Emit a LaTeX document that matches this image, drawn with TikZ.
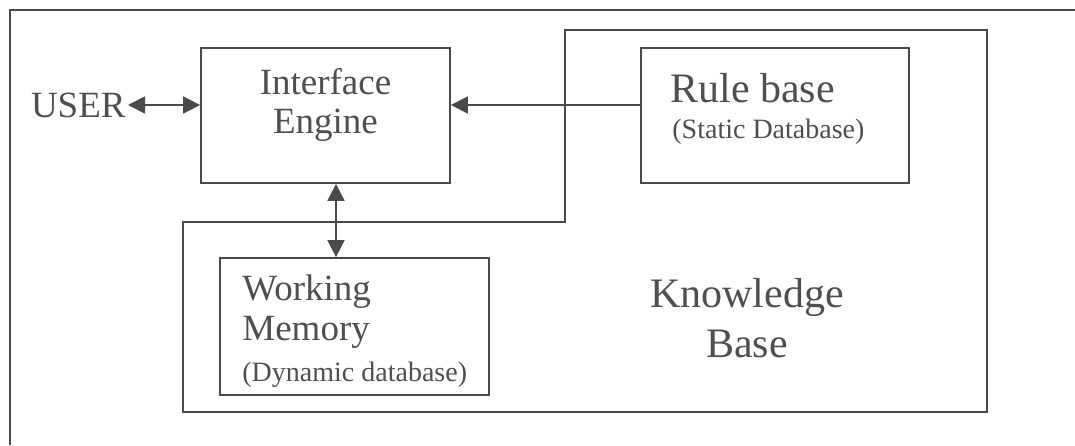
\documentclass[tikz,border=0pt]{standalone}
\usepackage{fontspec}
\setmainfont{Liberation Serif}
\usetikzlibrary{arrows.meta}
\definecolor{ink}{HTML}{4A4A4A}
\definecolor{txt}{HTML}{4F4F4F}
\tikzset{
  block/.style={draw=ink, line width=0.9pt, fill=white, inner sep=0pt},
  lbl/.style={text=txt, inner sep=0pt, font=\fontsize{18.5}{21}\selectfont},
  big/.style={text=txt, inner sep=0pt, font=\fontsize{21}{25}\selectfont},
  small/.style={text=txt, inner sep=0pt, font=\fontsize{14}{16}\selectfont},
  tip/.tip={Triangle[length=8.5pt,width=8.5pt]},
  link/.style={draw=ink, line width=0.9pt, -tip},
  dlink/.style={draw=ink, line width=0.9pt, tip-tip}
}
\begin{document}
\begin{tikzpicture}[x=0.5pt, y=-0.5pt]
\useasboundingbox (0,0) rectangle (1075,445);
% outer frame (top and left edges)
\draw[ink, line width=0.9pt] (10,445) -- (10,10) -- (1075,10);

% knowledge base outline
\draw[ink, line width=0.9pt] (565,30) -- (987,30) -- (987,412) -- (183,412) -- (183,222) -- (565,222) -- cycle;

% blocks (sizes in pt: half of the drawing units)
\node[block, minimum width=124.5pt, minimum height=67.5pt] (ie) at (325.5,115.5) {};
\node[block, minimum width=134pt, minimum height=67.5pt] (rb) at (775,115.5) {};
\node[block, minimum width=134.5pt, minimum height=68.5pt] (wm) at (354.5,326.5) {};

% texts
\node[lbl] (ie1) at (325.5,82) {Interface};
\node[lbl] (ie2) at (325.5,125) {Engine};
\node[lbl, anchor=east] (user) at (126,105) {USER};
\node[big, anchor=west] (rb1) at (670,88) {Rule base};
\node[small, anchor=west] (rb2) at (672,132) {(Static Database)};
\node[lbl, anchor=west] (wm1) at (242,292) {Working};
\node[lbl, anchor=west] (wm2) at (242,332) {Memory};
\node[small, anchor=west] (wm3) at (242,375) {(Dynamic database)};
\node[big] (kb1) at (747,297) {Knowledge};
\node[big] (kb2) at (747,344) {Base};

% connectors
\coordinate (vx) at (336,0);
\draw[dlink] ([xshift=1pt]user.east) -- (ie.west |- user);
\draw[link] (rb.west |- user) -- (ie.east |- user);
\draw[dlink] (ie.south -| vx) -- (wm.north -| vx);
\end{tikzpicture}
\end{document}
